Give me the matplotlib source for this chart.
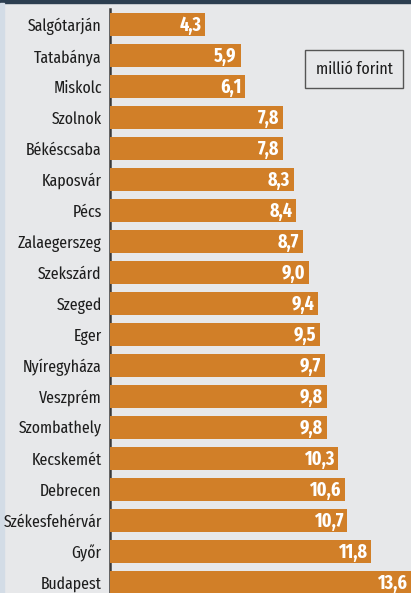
import matplotlib
matplotlib.use("Agg")
import matplotlib.pyplot as plt
from matplotlib.patches import Rectangle

cities = ["Salgótarján", "Tatabánya", "Miskolc", "Szolnok", "Békéscsaba", "Kaposvár",
          "Pécs", "Zalaegerszeg", "Szekszárd", "Szeged", "Eger", "Nyíregyháza",
          "Veszprém", "Szombathely", "Kecskemét", "Debrecen", "Székesfehérvár",
          "Győr", "Budapest"]
values = [4.3, 5.9, 6.1, 7.8, 7.8, 8.3, 8.4, 8.7, 9.0, 9.4, 9.5, 9.7, 9.8, 9.8,
          10.3, 10.6, 10.7, 11.8, 13.6]
unit_label = "millió forint"

plt.rcParams["font.family"] = ["Fira Sans Extra Condensed", "Fira Sans Condensed", "DejaVu Sans"]

W, H = 411, 593
fig = plt.figure(figsize=(W / 100, H / 100), dpi=100)
bg = "#e7e8ea"
fig.patch.set_facecolor(bg)

# top dark band and left light strip
fig.add_artist(Rectangle((0, 1 - 3 / H), 1, 3 / H, transform=fig.transFigure,
                         color="#2c3e50", zorder=0))
fig.add_artist(Rectangle((0, 0), 4 / W, 1 - 3 / H, transform=fig.transFigure,
                         color="#d3dce6", zorder=0))

ax = fig.add_axes([110 / W, 0, 1 - 110 / W, (H - 9) / H])
ax.set_facecolor("none")
pos = list(range(len(cities)))
ax.barh(pos, values, height=0.74, color="#d17f28", zorder=2)
ax.set_xlim(0, 13.6)
ax.set_ylim(18.34, -0.5)

for p, v in zip(pos, values):
    ax.text(v - 0.17, p + 0.03, f"{v:.1f}".replace(".", ","), ha="right", va="center",
            color="white", fontsize=14, fontweight="bold", zorder=3)

ax.set_yticks(pos)
ax.set_yticklabels(cities, fontsize=12.4, color="#1e1e1e")
ax.tick_params(axis="y", length=0, pad=6)
ax.set_xticks([])
for s in ["top", "right", "bottom"]:
    ax.spines[s].set_visible(False)
ax.spines["left"].set_color("#3a3a3a")
ax.spines["left"].set_linewidth(1.8)
ax.spines["left"].set_zorder(1)

fig.text(354 / W, 1 - 69 / H, unit_label, ha="center", va="center", fontsize=12.5,
         color="#1e1e1e",
         bbox=dict(boxstyle="square,pad=0.62", facecolor="none", edgecolor="#555555",
                   linewidth=1.0))

fig.savefig("out.png", dpi=100, facecolor=bg)
